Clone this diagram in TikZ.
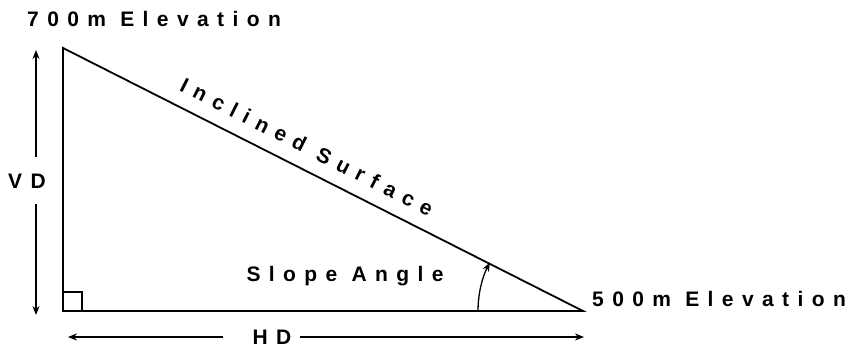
\documentclass[tikz,border=0pt]{standalone}
\usepackage{fontspec}
\usetikzlibrary{arrows.meta}
\newfontfamily\lab[LetterSpace=40]{Liberation Sans}
\tikzset{
  lbl/.style={font=\lab\bfseries\fontsize{21}{23}\selectfont, inner sep=0pt},
  edge/.style={line width=1.8pt},
  dim/.style={line width=1.5pt, -{Stealth[length=9pt,width=7pt]}},
}
\begin{document}
\begin{tikzpicture}[x=1pt,y=-1pt]
\useasboundingbox (0,0) rectangle (862,347);
\coordinate (A) at (63,48);
\coordinate (B) at (63,311);
\coordinate (C) at (583,311);
\draw[edge] (A) -- (B) -- (C) -- cycle;
\draw[line width=1.3pt] (63,292) -| (82,311);
% labels
\node[lbl, anchor=west] (top) at (27,19) {700m Elevation};
\node[lbl, anchor=west] (bot) at (592,299) {500m Elevation};
\node[lbl] (slope) at (345,276) {Slope Angle};
\path (A) -- (C) node[lbl, pos=0.45, sloped, above=14pt] (incl) {Inclined Surface};
\node[lbl] (vd) at (27,181) {VD};
\node[lbl] (hd) at (272,337) {HD};
% VD arrows
\coordinate (vt) at (36,50);
\coordinate (vb) at (36,315);
\draw[dim] (36,157) -- (vt);
\draw[dim] (36,204) -- (vb);
% HD arrows
\coordinate (hl) at (68,337);
\coordinate (hr) at (584,337);
\draw[dim] (223,337) -- (hl);
\draw[dim] (300,337) -- (hr);
% angle arc
\draw[line width=1.3pt, -{Stealth[length=9pt,width=7pt]}] (478,311) arc (180:207.5:105);
\end{tikzpicture}
\end{document}
